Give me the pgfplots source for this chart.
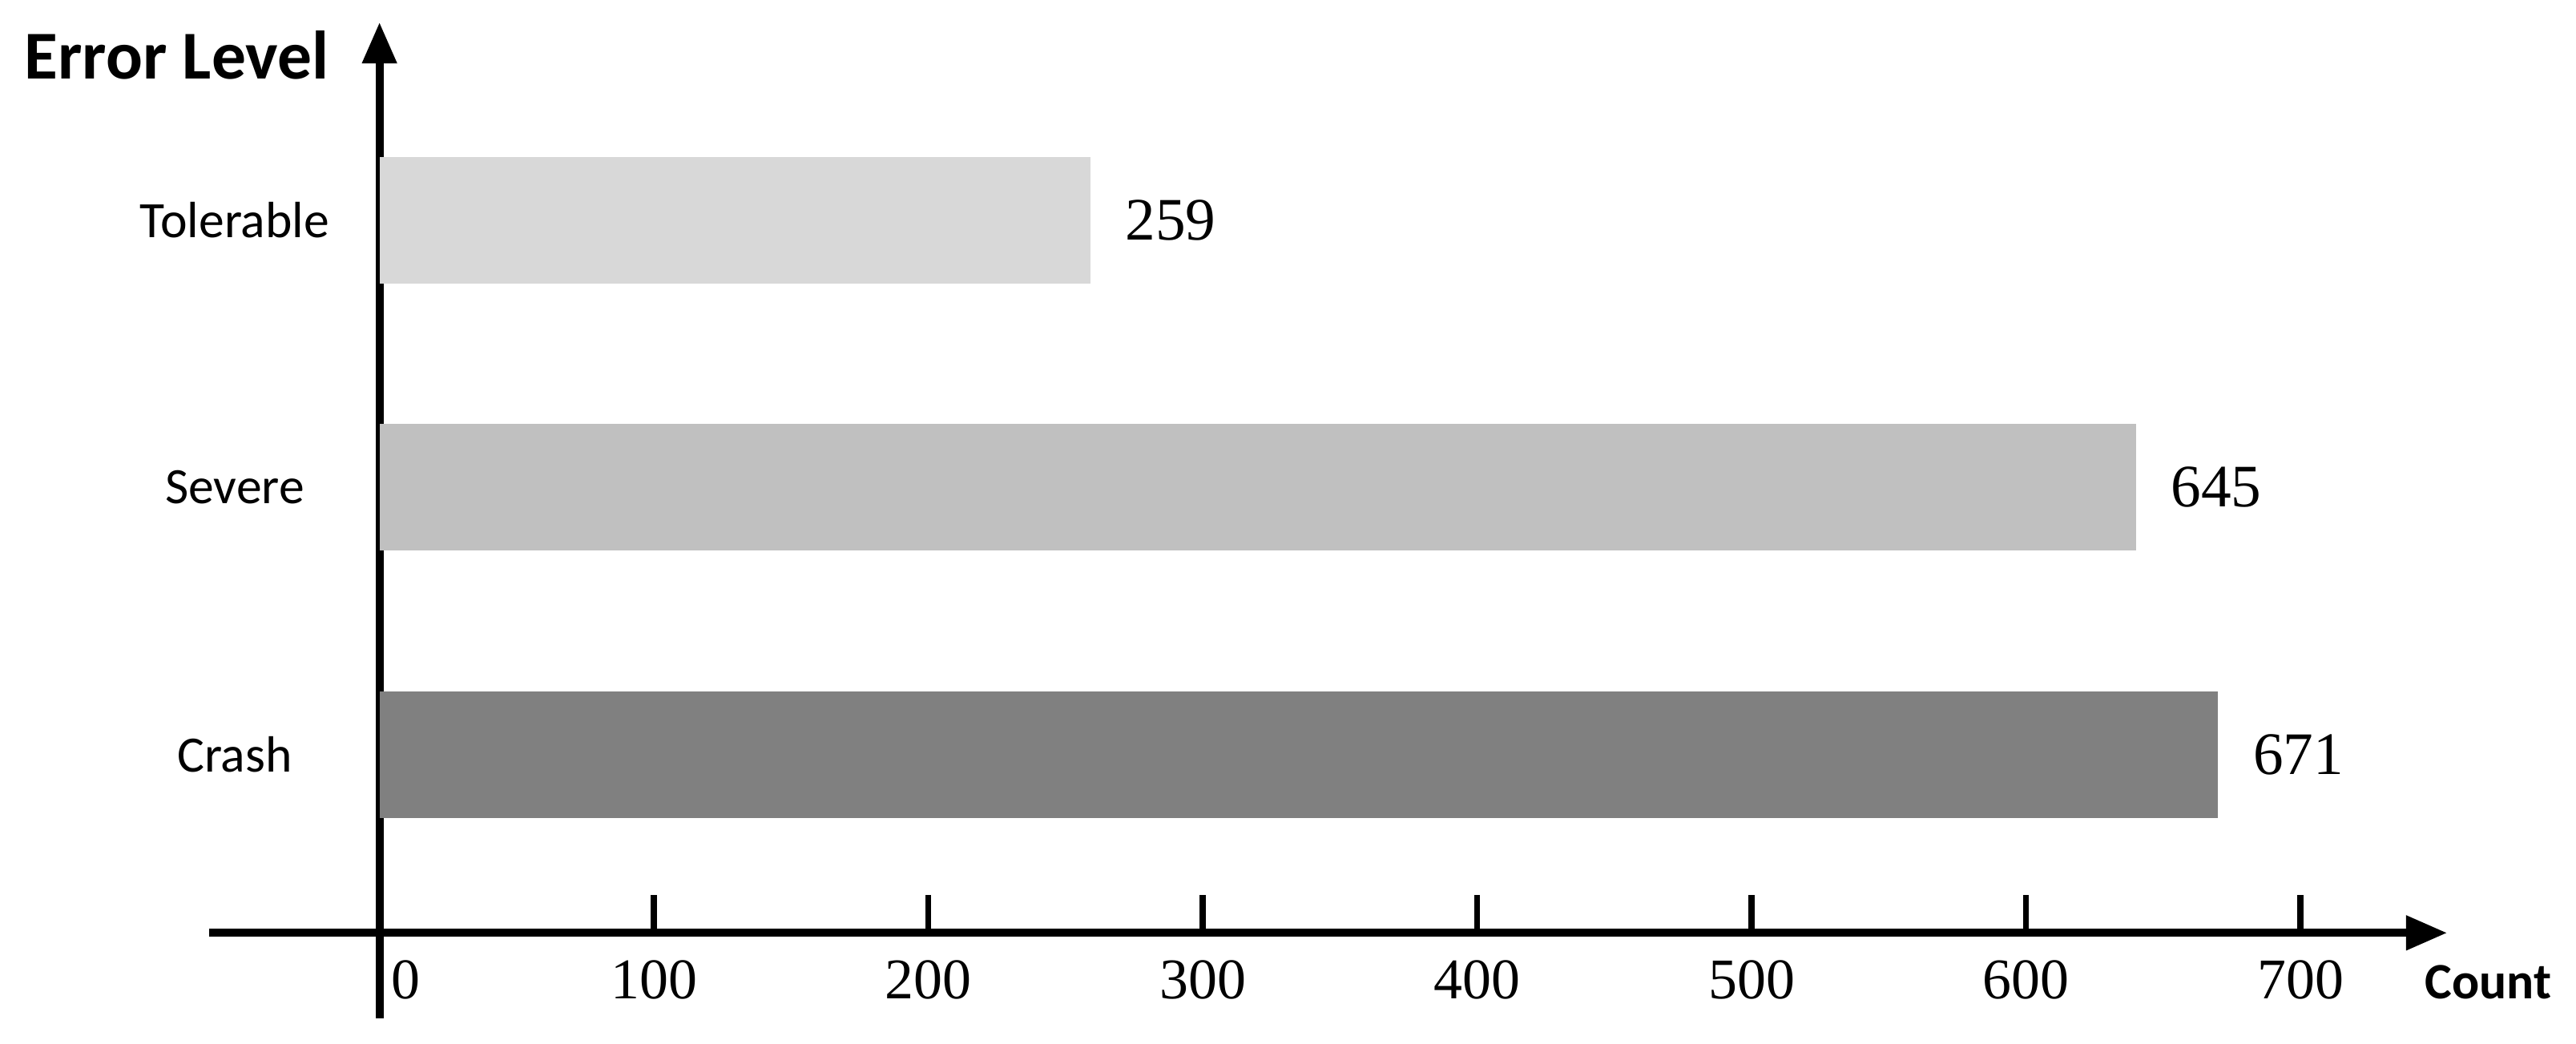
\documentclass[border=0pt]{standalone}
\usepackage{fontspec}
\setmainfont{Liberation Serif}
\newfontfamily\carlito{Carlito}
\usepackage{pgfplots}
\pgfplotsset{compat=1.18}
\usetikzlibrary{arrows.meta}

\definecolor{tolgray}{HTML}{D8D8D8}
\definecolor{sevgray}{HTML}{C0C0C0}
\definecolor{cragray}{HTML}{808080}

\begin{document}
\begin{tikzpicture}
\begin{axis}[
    scale only axis,
    width=408.1pt, height=181.6pt,
    xmin=-62, xmax=753.5,
    ymin=-0.955, ymax=10.22,
    axis lines=middle,
    axis line style={line width=1.5pt, black},
    x axis line style={-{Triangle[length=7.5pt,width=6pt]}},
    y axis line style={-{Triangle[length=7.5pt,width=6pt]}},
    xtick={100,200,...,700},
    extra x ticks={0},
    extra x tick style={major tick length=0pt,
        xticklabel style={anchor=north west, xshift=2pt}},
    tick align=inside,
    major tick length=6.9pt,
    xtick style={line width=1.1pt, black},
    xticklabel style={font=\fontsize{10.5}{12}\selectfont, anchor=north, inner sep=0pt, yshift=-4.8pt},
    /pgf/number format/assume math mode=true,
    ytick={2,5,8},
    yticklabels={Crash,Severe,Tolerable},
    ytick style={draw=none},
    yticklabel style={font=\carlito\fontsize{9.3}{11}\selectfont, anchor=center, inner sep=0pt, xshift=-19.5pt},
    xbar, bar width=1.42, bar shift=0pt,
    point meta=explicit symbolic,
    nodes near coords,
    nodes near coords style={font=\fontsize{11}{13}\selectfont, anchor=west, inner sep=0pt, xshift=6.2pt, black},
    xlabel={Count},
    xlabel style={font=\carlito\bfseries\fontsize{9.3}{11}\selectfont, at={(axis cs:745,-0.55)}, anchor=west, inner sep=0pt},
    ylabel={Error Level},
    ylabel style={font=\carlito\bfseries\fontsize{12.5}{14}\selectfont, at={(axis cs:-18,9.85)}, anchor=east, inner sep=0pt, rotate=0},
    clip=false,
]
\addplot[fill=tolgray, draw=none] coordinates {(259,8) [259]};
\addplot[fill=sevgray, draw=none] coordinates {(640,5) [645]};
\addplot[fill=cragray, draw=none] coordinates {(670,2) [671]};
\end{axis}
\path ([shift={(-4.5pt,-3.9pt)}]current bounding box.south west)
      ([shift={(4.5pt,3.3pt)}]current bounding box.north east);
\end{tikzpicture}
\end{document}
